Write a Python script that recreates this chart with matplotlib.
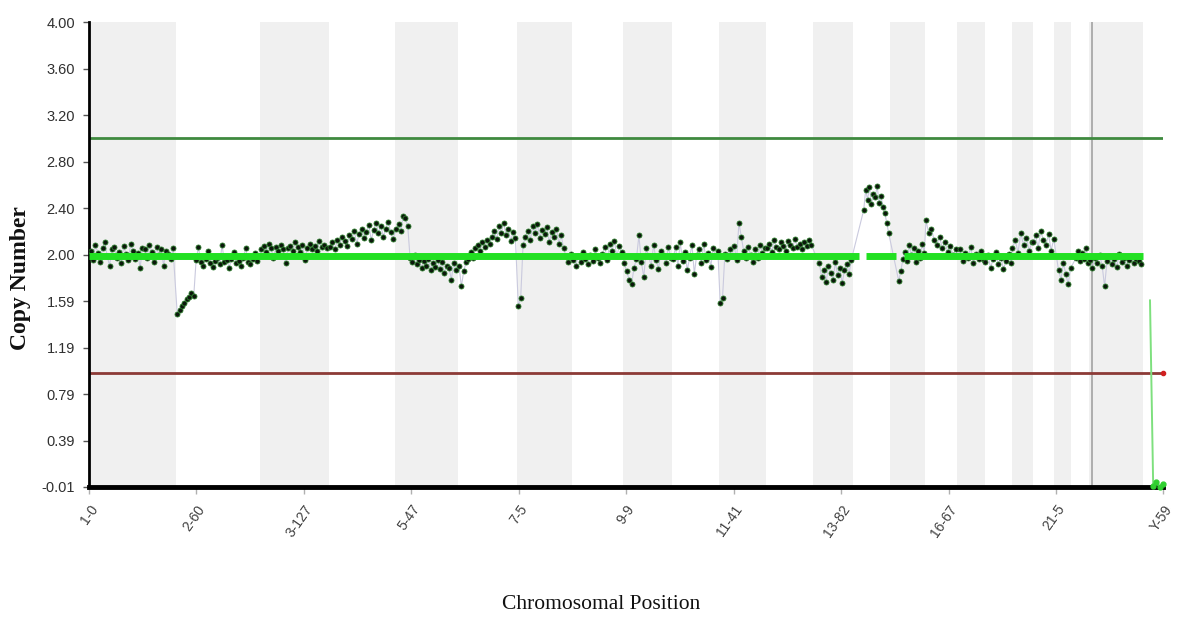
import numpy as np
import matplotlib.pyplot as plt

plt.rcParams['font.family'] = ['Liberation Sans', 'DejaVu Sans']

# hg19 chromosome lengths (Mb)
chroms = [str(i) for i in range(1, 23)] + ['X', 'Y']
chrom_len = [249.25, 243.2, 198.0, 191.15, 180.9, 171.1, 159.1, 146.4, 141.2, 135.5,
             135.0, 133.85, 115.2, 107.35, 102.5, 90.35, 81.2, 78.1, 59.1, 63.0,
             48.1, 51.3, 155.3, 59.4]
# fraction of each chromosome before the first probe (acrocentric p-arms are empty)
first_probe = {'13': 0.17, '14': 0.3, '15': 0.25, '21': 0.25, '22': 0.3, 'Y': 0.35}

# copy number per probe, in order along each chromosome
cn1 = [2.03, 1.95, 2.08, 2.01, 1.93, 2.05, 2.10, 1.98, 1.90, 2.04, 2.06, 1.97, 2.02, 1.92,
       2.07, 2.00, 1.95, 2.09, 2.03, 1.96, 2.01, 1.88, 2.05, 2.04, 1.97, 2.08, 2.02, 1.93,
       2.06, 1.99, 2.04, 1.90, 2.03, 2.00, 1.96, 2.05]
cn2 = [1.48, 1.52, 1.55, 1.58, 1.61, 1.63, 1.66, 1.64, 1.95, 2.06, 1.93, 1.90, 1.96, 2.03,
       1.92, 1.89, 1.94, 1.97, 1.91, 2.08, 1.93, 1.95, 1.88, 1.96, 2.02, 1.92, 1.94, 1.90,
       1.97, 2.05, 1.93, 1.91, 1.96, 2.01, 1.94]
cn3 = [2.04, 2.07, 2.02, 2.09, 2.05, 1.97, 2.06, 2.03, 2.08, 2.04, 1.92, 2.05, 2.07, 2.03,
       2.10, 2.06, 2.02, 2.08, 1.95, 2.05, 2.09, 2.04, 2.07, 2.03, 2.11, 2.06, 2.08, 2.05]
cn4 = [2.06, 2.10, 2.04, 2.12, 2.08, 2.15, 2.11, 2.07, 2.16, 2.13, 2.20, 2.09, 2.17, 2.22,
       2.14, 2.19, 2.25, 2.12, 2.21, 2.27, 2.18, 2.24, 2.15, 2.22, 2.28, 2.19, 2.13]
cn5 = [2.22, 2.26, 2.20, 2.33, 2.31, 2.24, 1.97, 1.93, 1.99, 1.91, 1.95, 1.88, 1.94, 1.90,
       1.96, 1.86, 1.92, 1.89, 1.95, 1.87, 1.93, 1.84, 1.90, 1.88, 1.78, 1.92, 1.86]
cn6 = [1.90, 1.72, 1.85, 1.93, 1.96, 2.02, 1.97, 2.05, 2.08, 2.03, 2.10, 2.06, 2.12, 2.09,
       2.15, 2.20, 2.13, 2.24, 2.18, 2.27, 2.16, 2.22, 2.11, 2.19, 2.14]
cn7 = [1.55, 1.62, 2.08, 2.15, 2.20, 2.12, 2.24, 2.18, 2.26, 2.14, 2.21, 2.17, 2.23, 2.10,
       2.19, 2.15, 2.22, 2.09, 2.16, 2.05, 1.98, 1.93, 2.00]
cn8 = [1.95, 1.90, 1.98, 1.93, 2.02, 1.96, 1.91, 1.99, 1.94, 2.04, 1.97, 1.92, 2.00, 2.06,
       1.95, 2.09, 2.03, 2.11, 1.98, 2.07, 2.02]
cn9 = [1.92, 1.85, 1.78, 1.74, 1.88, 1.96, 2.16, 1.93, 1.80, 2.05, 1.98, 1.90, 2.08, 1.95,
       1.87, 2.03, 1.99, 1.92, 2.06, 1.97]
cn10 = [1.96, 2.06, 1.90, 2.10, 1.94, 2.02, 1.86, 1.97, 2.08, 1.83, 1.99, 2.04, 1.92, 2.09,
        1.95, 2.01, 1.89, 2.05, 1.98, 2.03]
cn11 = [1.58, 1.62, 2.00, 1.96, 2.04, 1.98, 2.07, 1.95, 2.27, 2.15, 2.03, 1.97, 2.06, 1.99,
        1.93, 2.04, 1.97, 2.08, 2.01, 2.05]
cn12 = [2.05, 2.09, 2.02, 2.12, 2.06, 2.04, 2.10, 2.07, 2.03, 2.11, 2.08, 2.05, 2.13, 2.06,
        2.09, 2.04, 2.10, 2.07, 2.12, 2.08]
cn13 = [1.92, 1.80, 1.86, 1.76, 1.90, 1.84, 1.78, 1.93, 1.82, 1.88, 1.75, 1.86, 1.91, 1.83, 1.95]
cn14 = [2.38, 2.55, 2.47, 2.58, 2.43, 2.52, 2.49, 2.59, 2.44, 2.50, 2.41, 2.35, 2.27, 2.18]
cn15 = [1.77, 1.85, 1.96, 2.02, 1.94, 2.08, 1.99, 2.05, 1.93, 2.03, 1.97, 2.09, 2.01]
cn16 = [2.29, 2.18, 2.22, 2.12, 2.08, 2.15, 2.05, 2.10, 2.02, 2.07, 1.99, 2.04]
cn17 = [1.98, 2.04, 1.94, 2.01, 1.97, 2.06, 1.92, 2.00, 1.96, 2.03, 1.95]
cn18 = [1.93, 1.99, 1.88, 1.96, 2.02, 1.91, 1.97, 1.87, 1.94, 2.00, 1.92]
cn19 = [2.05, 2.12, 2.01, 2.18, 2.08, 2.14, 2.03, 2.10]
cn20 = [2.10, 2.16, 2.05, 2.20, 2.12, 2.08, 2.17, 2.03, 2.13]
cn21 = [1.86, 1.78, 1.92, 1.83, 1.74, 1.88]
cn22 = [1.97, 2.03, 1.94, 2.01, 1.96, 2.05, 1.92]
cnX = [1.95, 1.88, 1.97, 1.92, 1.99, 1.90, 1.72, 1.94, 1.98, 1.91, 1.96, 1.89, 2.00, 1.93,
       1.97, 1.90, 1.95, 1.98, 1.92, 1.96, 1.94, 1.91]
cnY = [1.60, 0.00, 0.03, -0.01, 0.02]

# segmented copy number: (start Mb, end Mb, value)
seg_start = [0.0, 2238.0, 2347.0]
seg_end = [2218.0, 2325.0, 3036.0]
seg_value = [1.98, 1.98, 1.98]

gain_threshold = 3.0
loss_threshold = 0.97

xtick_labels = ['1-0', '2-60', '3-127', '5-47', '7-5', '9-9', '11-41', '13-82', '16-67', '21-5', 'Y-59']
ytick_labels = ['-0.01', '0.39', '0.79', '1.19', '1.59', '2.00', '2.40', '2.80', '3.20', '3.60', '4.00']

cn_by_chrom = [cn1, cn2, cn3, cn4, cn5, cn6, cn7, cn8, cn9, cn10, cn11, cn12, cn13, cn14,
               cn15, cn16, cn17, cn18, cn19, cn20, cn21, cn22, cnX, cnY]

offsets = np.concatenate([[0], np.cumsum(chrom_len)])
genome_len = offsets[-1]

xs, ys = [], []
for name, start, length, vals in zip(chroms, offsets[:-1], chrom_len, cn_by_chrom):
    p0 = first_probe.get(name, 0.02)
    pos = start + length * np.linspace(p0, 0.97, len(vals))
    xs.append(pos)
    ys.append(np.array(vals))

fig = plt.figure(figsize=(11.78, 6.18), dpi=100)
ax = fig.add_axes([0.0756, 0.212, 0.912, 0.752])

# alternate chromosome shading
for i, (start, length) in enumerate(zip(offsets[:-1], chrom_len)):
    if i % 2 == 0:
        ax.axvspan(start, start + length, color='#f0f0f0', lw=0, zorder=0)
ax.axvline(offsets[22] + 10, color='#a8a8a8', lw=1.3, zorder=1)

ax.axhline(gain_threshold, color='#3f8a3f', lw=2, zorder=2)
ax.axhline(loss_threshold, color='#8c3a36', lw=2, zorder=2)
ax.plot([genome_len], [loss_threshold], 'o', color='#d02020', ms=3, zorder=3, clip_on=False)

# autosomes + X as one track, Y separately
x_auto = np.concatenate(xs[:-1])
y_auto = np.concatenate(ys[:-1])
ax.plot(x_auto, y_auto, color='#cacade', lw=0.8, zorder=3)
ax.plot(x_auto, y_auto, 'o', ms=3.6, mfc='#0c180c', mec='#2a7a2a', mew=0.6, zorder=4)

ax.plot(xs[-1], ys[-1], color='#7ee07e', lw=1.4, zorder=3)
ax.plot(xs[-1][1:], ys[-1][1:], 'o', ms=3.5, mfc='#30d030', mec='#30d030', zorder=4, clip_on=False)

for s, e, v in zip(seg_start, seg_end, seg_value):
    ax.plot([s, e], [v, v], color='#22e022', lw=5, solid_capstyle='butt', zorder=5)

ax.set_xlim(0, genome_len)
ax.set_ylim(-0.01, 4.0)

ax.set_yticks(np.linspace(-0.01, 4.0, 11))
ax.set_yticklabels(ytick_labels, fontsize=10.5, color='#303030')
ax.set_xticks(np.linspace(0, genome_len, 11))
ax.set_xticklabels(xtick_labels, fontsize=10, color='#404040', rotation=55,
                   ha='right', rotation_mode='anchor')
ax.tick_params(axis='y', length=4, width=1, color='#555555', pad=6)
ax.tick_params(axis='x', length=5, width=1, color='#b0b0b0', pad=6)

for side in ['top', 'right']:
    ax.spines[side].set_visible(False)
ax.spines['left'].set_linewidth(2)
ax.spines['bottom'].set_linewidth(3.5)
ax.spines['left'].set_color('black')
ax.spines['bottom'].set_color('black')

fig.text(0.017, 0.55, 'Copy Number', rotation=90, ha='center', va='center',
         family='Liberation Serif', fontsize=17, fontweight='bold', color='#111111')
fig.text(0.51, 0.022, 'Chromosomal Position', ha='center', va='center',
         family='Liberation Serif', fontsize=15.5, color='#111111')

fig.savefig('out.png', dpi=100)
